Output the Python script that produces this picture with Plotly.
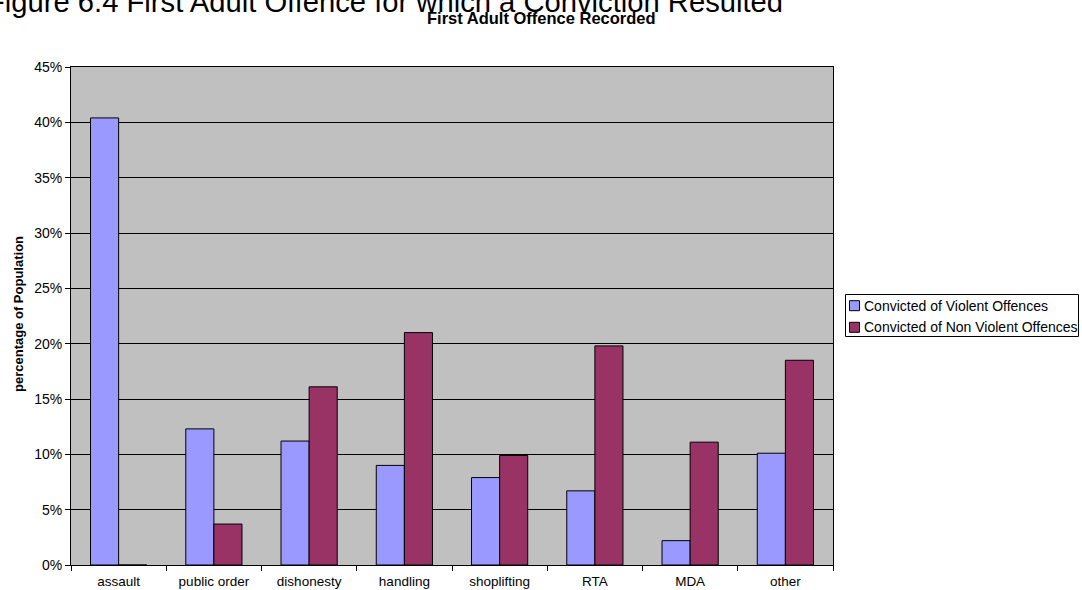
import plotly.graph_objects as go

categories = ["assault", "public order", "dishonesty", "handling", "shoplifting", "RTA", "MDA", "other"]
violent = [0.404, 0.123, 0.112, 0.090, 0.079, 0.067, 0.022, 0.101]
non_violent = [0.0, 0.037, 0.161, 0.210, 0.099, 0.198, 0.111, 0.185]
series_names = ["Convicted of Violent Offences", "Convicted of Non Violent Offences"]
series_colors = ["#9999FF", "#993366"]
y_ticks = [0, 0.05, 0.10, 0.15, 0.20, 0.25, 0.30, 0.35, 0.40, 0.45]

FONT = "Arial, Liberation Sans, sans-serif"

fig = go.Figure()
for vals, name, col in zip([violent, non_violent], series_names, series_colors):
    fig.add_trace(go.Bar(x=categories, y=vals, name=name, showlegend=False,
                         marker=dict(color=col, line=dict(color="black", width=1))))

W, H = 1082, 590
L, R, T, B = 71, 249, 67, 25
pw = W - L - R
ph = H - T - B

def px_x(x):
    return (x - L) / pw

def px_y(y):
    return (H - B - y) / ph

# legend drawn as box + swatches + labels (matching the reference layout)
shapes = [dict(type="rect", xref="paper", yref="paper",
               x0=px_x(845.5), x1=px_x(1078.5), y0=px_y(294.5), y1=px_y(336.5),
               line=dict(color="black", width=1), fillcolor="white", layer="above")]
annotations = []
row_y = [305.7, 327.3]
for name, col, ry in zip(series_names, series_colors, row_y):
    shapes.append(dict(type="rect", xref="paper", yref="paper",
                       x0=px_x(849.5), x1=px_x(859.5), y0=px_y(ry + 5), y1=px_y(ry - 5),
                       line=dict(color="black", width=1), fillcolor=col, layer="above"))
    annotations.append(dict(text=name, xref="paper", yref="paper",
                            x=px_x(862), y=px_y(ry), xanchor="left", yanchor="middle",
                            showarrow=False,
                            font=dict(family=FONT, size=14, color="black")))

annotations += [
    dict(text="Figure 6.4 First Adult Offence for which a Conviction Resulted",
         xref="paper", yref="paper", x=px_x(-15), y=px_y(2.5),
         xanchor="left", yanchor="middle", showarrow=False,
         font=dict(family=FONT, size=29.2, color="black")),
    dict(text="<b>First Adult Offence Recorded</b>",
         xref="paper", yref="paper", x=px_x(541), y=px_y(17.5),
         xanchor="center", yanchor="middle", showarrow=False,
         font=dict(family=FONT, size=16.5, color="black")),
    dict(text="<b>percentage of Population</b>",
         xref="paper", yref="paper", x=px_x(18), y=px_y(314),
         xanchor="center", yanchor="middle", showarrow=False, textangle=-90,
         font=dict(family=FONT, size=13, color="black")),
]

fig.update_layout(
    width=W, height=H,
    margin=dict(l=L, r=R, t=T, b=B, autoexpand=False),
    paper_bgcolor="white",
    plot_bgcolor="#C0C0C0",
    barmode="group",
    bargap=0.41,
    bargroupgap=0,
    font=dict(family=FONT, size=14, color="black"),
    showlegend=False,
    xaxis=dict(
        type="category", automargin=False,
        showline=True, linecolor="black", linewidth=1, mirror=True,
        ticks="outside", ticklen=5, tickcolor="black", tickson="boundaries",
        showgrid=False,
        tickfont=dict(family=FONT, size=13.5, color="black"),
        ticklabelstandoff=4,
    ),
    yaxis=dict(
        range=[0, 0.45], automargin=False,
        tickvals=y_ticks,
        tickformat=".0%",
        showline=True, linecolor="black", linewidth=1, mirror=True,
        ticks="outside", ticklen=5, tickcolor="black",
        showgrid=True, gridcolor="black", gridwidth=1,
        zeroline=False,
        tickfont=dict(family=FONT, size=14, color="black"),
    ),
    shapes=shapes,
    annotations=annotations,
)

fig.write_html("out.html")
